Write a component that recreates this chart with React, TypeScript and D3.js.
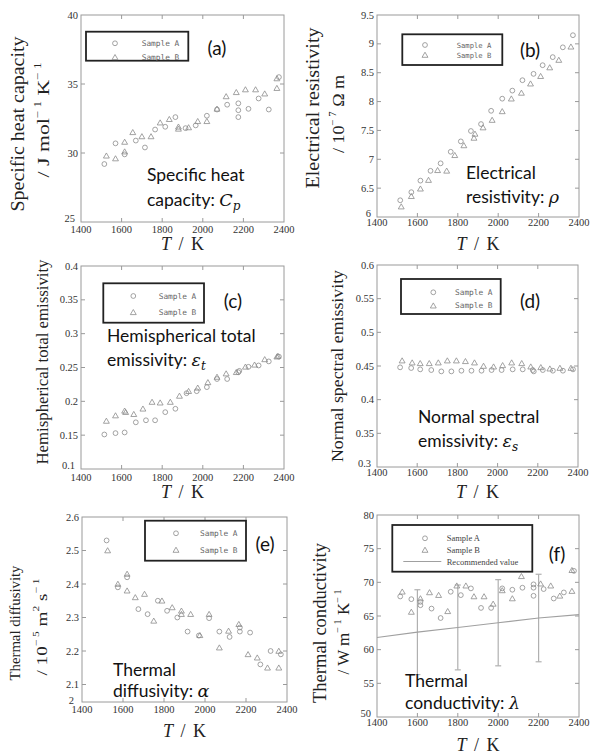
import React from 'react';
import { scaleLinear, symbol, symbolTriangle, line } from 'd3';

// temperatures (K) and values
const tempTicks = [1400, 1600, 1800, 2000, 2200, 2400];

// (a) specific heat capacity, J mol-1 K-1
const cpTempA = [1515, 1570, 1615, 1670, 1715, 1765, 1815, 1865, 1915, 1965, 2020, 2070, 2120, 2175, 2175, 2175, 2225, 2275, 2325, 2375];
const cpA = [29.2, 30.7, 29.9, 30.9, 30.4, 31.7, 31.9, 32.6, 31.8, 32.0, 32.7, 33.15, 33.5, 33.6, 33.1, 32.6, 33.2, 33.95, 33.15, 35.5];
const cpTempB = [1525, 1570, 1615, 1615, 1655, 1700, 1745, 1790, 1835, 1880, 1880, 1930, 1975, 2020, 2070, 2115, 2165, 2210, 2260, 2305, 2365, 2365];
const cpB = [29.8, 29.6, 30.1, 30.8, 31.5, 31.2, 31.2, 32.2, 32.45, 31.75, 31.9, 31.85, 32.3, 32.3, 33.2, 34.1, 34.4, 34.6, 34.6, 34.3, 34.7, 35.4];
const cpTicks = [25, 30, 35, 40];

// (b) electrical resistivity, 1e-7 ohm m
const rhoTempA = [1515, 1570, 1615, 1665, 1715, 1765, 1815, 1865, 1915, 1965, 2020, 2070, 2120, 2175, 2220, 2270, 2320, 2370];
const rhoA = [6.29, 6.43, 6.63, 6.8, 6.93, 7.13, 7.31, 7.49, 7.61, 7.84, 8.05, 8.19, 8.37, 8.48, 8.63, 8.77, 8.94, 9.15];
const rhoTempB = [1520, 1570, 1615, 1655, 1700, 1745, 1785, 1830, 1880, 1885, 1925, 1970, 2020, 2065, 2115, 2160, 2210, 2255, 2300, 2360];
const rhoB = [6.18, 6.36, 6.49, 6.64, 6.81, 6.8, 7.07, 7.24, 7.37, 7.44, 7.55, 7.68, 7.83, 8.05, 8.15, 8.31, 8.44, 8.59, 8.72, 8.95];
const rhoTicks = [6, 6.5, 7, 7.5, 8, 8.5, 9, 9.5];

// (c) hemispherical total emissivity
const etTempA = [1515, 1570, 1615, 1670, 1720, 1765, 1815, 1865, 1920, 1970, 2020, 2070, 2120, 2175, 2180, 2225, 2275, 2325, 2375];
const etA = [0.151, 0.153, 0.154, 0.169, 0.172, 0.172, 0.184, 0.189, 0.212, 0.215, 0.221, 0.233, 0.233, 0.243, 0.245, 0.251, 0.253, 0.259, 0.266];
const etTempB = [1525, 1570, 1615, 1620, 1660, 1705, 1750, 1790, 1840, 1885, 1930, 1975, 2025, 2070, 2115, 2165, 2210, 2255, 2305, 2365, 2370];
const etB = [0.171, 0.179, 0.186, 0.184, 0.181, 0.189, 0.199, 0.198, 0.199, 0.208, 0.215, 0.22, 0.228, 0.236, 0.241, 0.243, 0.251, 0.254, 0.262, 0.266, 0.267];
const etTicks = [0.1, 0.15, 0.2, 0.25, 0.3, 0.35, 0.4];

// (d) normal spectral emissivity
const esTempA = [1515, 1570, 1615, 1670, 1720, 1770, 1820, 1870, 1920, 1970, 2020, 2075, 2125, 2175, 2180, 2225, 2275, 2325, 2375];
const esA = [0.448, 0.447, 0.445, 0.444, 0.442, 0.442, 0.443, 0.443, 0.443, 0.444, 0.444, 0.445, 0.445, 0.444, 0.442, 0.444, 0.443, 0.443, 0.445];
const esTempB = [1525, 1575, 1615, 1660, 1705, 1750, 1795, 1840, 1885, 1930, 1980, 2025, 2070, 2120, 2165, 2215, 2260, 2310, 2365];
const esB = [0.458, 0.455, 0.454, 0.454, 0.455, 0.458, 0.458, 0.457, 0.455, 0.45, 0.449, 0.451, 0.455, 0.454, 0.449, 0.448, 0.446, 0.447, 0.447];
const esTicks = [0.3, 0.35, 0.4, 0.45, 0.5, 0.55, 0.6];

// (e) thermal diffusivity, 1e-5 m2 s-1
const alTempA = [1520, 1575, 1620, 1675, 1720, 1770, 1815, 1865, 1915, 1970, 2020, 2070, 2120, 2170, 2170, 2220, 2270, 2320, 2370];
const alA = [2.53, 2.39, 2.42, 2.325, 2.31, 2.35, 2.32, 2.3, 2.258, 2.246, 2.298, 2.258, 2.242, 2.27, 2.258, 2.255, 2.16, 2.2, 2.19];
const alTempB = [1525, 1575, 1620, 1620, 1660, 1705, 1750, 1790, 1840, 1885, 1885, 1930, 1975, 2020, 2070, 2115, 2165, 2210, 2255, 2305, 2360, 2360];
const alB = [2.5, 2.4, 2.43, 2.38, 2.36, 2.37, 2.29, 2.35, 2.33, 2.32, 2.31, 2.31, 2.247, 2.31, 2.21, 2.26, 2.28, 2.19, 2.18, 2.15, 2.2, 2.15];
const alTicks = [2, 2.1, 2.2, 2.3, 2.4, 2.5, 2.6];

// (f) thermal conductivity, W m-1 K-1
const laTempA = [1515, 1570, 1615, 1615, 1670, 1715, 1765, 1815, 1865, 1915, 1965, 2020, 2070, 2120, 2175, 2175, 2175, 2225, 2275, 2325, 2375];
const laA = [67.9, 67.5, 67.1, 66.6, 66.1, 64.7, 68.6, 68.1, 69.1, 66.2, 66.2, 69.1, 68.9, 69.2, 69.7, 69.2, 68.0, 69.0, 67.6, 68.5, 71.7];
const laTempB = [1525, 1570, 1615, 1660, 1705, 1750, 1795, 1840, 1880, 1930, 1975, 2020, 2070, 2115, 2210, 2260, 2305, 2365, 2365];
const laB = [68.6, 65.6, 67.6, 68.5, 68.1, 65.7, 69.5, 69.5, 67.9, 67.9, 66.8, 68.8, 67.6, 70.9, 69.8, 69.5, 68.0, 68.7, 71.8];
const recTemp = [1400, 1600, 1800, 2000, 2200, 2400];
const recValue = [61.8, 62.6, 63.3, 64.0, 64.7, 65.2];
const errTemp = [1600, 1800, 2000, 2200];
const errLow = [56.3, 57.0, 57.6, 58.2];
const errHigh = [68.9, 69.6, 70.4, 71.2];
const laTicks = [50, 55, 60, 65, 70, 75, 80];

const serif = '"Liberation Serif", "DejaVu Serif", serif';
const sans = 'Lato, "Open Sans", sans-serif';
const mono = '"DejaVu Sans Mono", "Liberation Mono", monospace';
const mathFont = '"DejaVu Serif", serif';
const markColor = '#8c8c8c';
const frameColor = '#9a9a9a';

type Seg = { t: string; i?: boolean; sub?: boolean; sup?: boolean; math?: boolean };

const zip = (ts: number[], vs: number[]) => ts.map((t, i) => [t, vs[i]] as [number, number]);

function Segs({ segs, small }: { segs: Seg[]; small: number }) {
  let shift = 0;
  return (
    <>
      {segs.map((s, k) => {
        const target = s.sub ? 4 : s.sup ? -6 : 0;
        const dy = target - shift;
        shift = target;
        return (
          <tspan
            key={k}
            dy={dy}
            fontStyle={s.i ? 'italic' : undefined}
            fontFamily={s.math ? mathFont : undefined}
            fontSize={s.sub || s.sup ? small : undefined}
          >
            {s.t}
          </tspan>
        );
      })}
    </>
  );
}

const triangle = symbol().type(symbolTriangle).size(15)();

function Circle({ cx, cy }: { cx: number; cy: number }) {
  return <circle cx={cx} cy={cy} r={2.4} fill="none" stroke={markColor} strokeWidth={0.8} />;
}
function Tri({ cx, cy }: { cx: number; cy: number }) {
  return <path d={triangle} transform={`translate(${cx},${cy + 0.6})`} fill="none" stroke={markColor} strokeWidth={0.8} />;
}

type Panel = {
  id: string;
  left: number; right: number; top: number; bottom: number;
  yDomain: [number, number]; yRange?: [number, number];
  yTicks: number[];
  a: [number, number][]; b: [number, number][];
  xLabelY: number; tkY: number;
  ylabel: { x: number; y: number; len: number; size: number; segs: Seg[] }[];
  tag: { x: number; y: number };
  note: { x: number; ys: number[]; lines: Seg[][] };
  legend: { x: number; y: number; w: number; h: number; mx: number; tx: number; rows: number[]; font: string; size: number; fill: string; rec?: boolean };
  bottomLabelY?: number;
  extra?: boolean;
};

const panels: Panel[] = [
  {
    id: '(a)', left: 81, right: 284, top: 15, bottom: 222, yDomain: [25, 40], yTicks: cpTicks,
    a: zip(cpTempA, cpA), b: zip(cpTempB, cpB), xLabelY: 233, tkY: 250,
    ylabel: [
      { x: 18, y: 124, len: 175, size: 18, segs: [{ t: 'Specific  heat  capacity' }] },
      { x: 43, y: 120, len: 115, size: 17, segs: [{ t: '/  J mol' }, { t: '− 1', sup: true }, { t: ' K' }, { t: '− 1', sup: true }] },
    ],
    tag: { x: 217, y: 47 },
    note: { x: 147, ys: [181, 206], lines: [[{ t: 'Specific heat' }], [{ t: 'capacity: ' }, { t: 'C', i: true, math: true }, { t: 'p', i: true, sub: true, math: true }]] },
    legend: { x: 86, y: 31.7, w: 102.3, h: 29, mx: 115, tx: 141.7, rows: [43.3, 57.3], font: mono, size: 7.8, fill: '#666' },
  },
  {
    id: '(b)', left: 377, right: 579, top: 15, bottom: 217, yDomain: [6, 9.5], yTicks: rhoTicks,
    a: zip(rhoTempA, rhoA), b: zip(rhoTempB, rhoB), xLabelY: 226, tkY: 250,
    ylabel: [
      { x: 313, y: 108, len: 161, size: 18.5, segs: [{ t: 'Electrical  resistivity' }] },
      { x: 338, y: 114, len: 78, size: 17, segs: [{ t: '/ 10' }, { t: '− 7', sup: true }, { t: ' Ω m' }] },
    ],
    tag: { x: 530, y: 49 },
    note: { x: 466, ys: [179, 203], lines: [[{ t: 'Electrical' }], [{ t: 'resistivity: ' }, { t: 'ρ', i: true, math: true }]] },
    legend: { x: 402.3, y: 34.3, w: 100, h: 30.7, mx: 425, tx: 456.7, rows: [45, 55], font: mono, size: 7.2, fill: '#666' },
  },
  {
    id: '(c)', left: 81, right: 284, top: 266, bottom: 469, yDomain: [0.1, 0.4], yTicks: etTicks,
    a: zip(etTempA, etA), b: zip(etTempB, etB), xLabelY: 481, tkY: 498,
    ylabel: [{ x: 42, y: 362, len: 205, size: 16, segs: [{ t: 'Hemispherical  total  emissivity' }] }],
    tag: { x: 233, y: 300 },
    note: { x: 107, ys: [342, 366], lines: [[{ t: 'Hemispherical total' }], [{ t: 'emissivity: ' }, { t: 'ε', i: true, math: true }, { t: 't', i: true, sub: true, math: true }]] },
    legend: { x: 103.3, y: 283.3, w: 100.7, h: 39.4, mx: 133.3, tx: 158.7, rows: [296, 312.3], font: mono, size: 7.8, fill: '#666' },
  },
  {
    id: '(d)', left: 377, right: 578, top: 265, bottom: 467, yDomain: [0.3, 0.6], yTicks: esTicks,
    a: zip(esTempA, esA), b: zip(esTempB, esB), xLabelY: 476, tkY: 498,
    ylabel: [{ x: 337, y: 366, len: 192, size: 17, segs: [{ t: 'Normal  spectral  emissivity' }] }],
    tag: { x: 530, y: 300 },
    note: { x: 418, ys: [423, 447], lines: [[{ t: 'Normal spectral' }], [{ t: 'emissivity: ' }, { t: 'ε', i: true, math: true }, { t: 's', i: true, sub: true, math: true }]] },
    legend: { x: 401, y: 279, w: 99.7, h: 35, mx: 433.3, tx: 455, rows: [292.3, 305.7], font: mono, size: 7.8, fill: '#666' },
  },
  {
    id: '(e)', left: 82, right: 287, top: 517, bottom: 702, yDomain: [2, 2.6], yRange: [718, 517], yTicks: alTicks,
    a: zip(alTempA, alA), b: zip(alTempB, alB), xLabelY: 713, tkY: 737,
    ylabel: [
      { x: 15, y: 623, len: 115, size: 14.5, segs: [{ t: 'Thermal  diffusivity' }] },
      { x: 42, y: 627, len: 97, size: 15, segs: [{ t: '/ 10' }, { t: '− 5', sup: true }, { t: '  m' }, { t: '2', sup: true }, { t: ' s' }, { t: '− 1', sup: true }] },
    ],
    tag: { x: 265, y: 543 },
    note: { x: 113, ys: [676, 697], lines: [[{ t: 'Thermal' }], [{ t: 'diffusivity: ' }, { t: 'α', i: true, math: true }]] },
    legend: { x: 145, y: 520.7, w: 101, h: 40, mx: 176, tx: 200, rows: [533.3, 550], font: mono, size: 7.8, fill: '#666' },
    bottomLabelY: 700,
  },
  {
    id: '(f)', left: 377, right: 579, top: 515, bottom: 717, yDomain: [50, 80], yTicks: laTicks,
    a: zip(laTempA, laA), b: zip(laTempB, laB), xLabelY: 726, tkY: 751,
    ylabel: [
      { x: 320, y: 623, len: 160, size: 18, segs: [{ t: 'Thermal  conductivity' }] },
      { x: 343, y: 632, len: 85, size: 17, segs: [{ t: '/  W m' }, { t: '− 1', sup: true }, { t: ' K' }, { t: '− 1', sup: true }] },
    ],
    tag: { x: 557, y: 553 },
    note: { x: 405, ys: [687, 709], lines: [[{ t: 'Thermal' }], [{ t: 'conductivity: ' }, { t: 'λ', i: true, math: true }]] },
    legend: { x: 392.3, y: 525, w: 140, h: 46.7, mx: 425, tx: 446.7, rows: [538.3, 550, 561.5], font: serif, size: 8.5, fill: '#444', rec: true },
    extra: true,
  },
];

function ChartPanel({ p }: { p: Panel }) {
  const x = scaleLinear().domain([1400, 2400]).range([p.left, p.right]);
  const y = scaleLinear().domain(p.yDomain).range(p.yRange || [p.bottom, p.top]);
  const inner = tempTicks.slice(1, -1);
  const innerY = p.yTicks.filter((v) => y(v) > p.top + 1 && y(v) < p.bottom - 1);
  const recLine = line<[number, number]>().x((d) => x(d[0])).y((d) => y(d[1]));
  const L = p.legend;
  return (
    <g>
      {/* frame and inward ticks */}
      <rect x={p.left} y={p.top} width={p.right - p.left} height={p.bottom - p.top} fill="none" stroke={frameColor} strokeWidth={1} />
      {inner.map((t) => (
        <g key={'xt' + t} stroke={frameColor}>
          <line x1={x(t)} x2={x(t)} y1={p.bottom} y2={p.bottom - 4} />
          <line x1={x(t)} x2={x(t)} y1={p.top} y2={p.top + 4} />
        </g>
      ))}
      {innerY.map((v) => (
        <g key={'yt' + v} stroke={frameColor}>
          <line x1={p.left} x2={p.left + 4} y1={y(v)} y2={y(v)} />
          <line x1={p.right} x2={p.right - 4} y1={y(v)} y2={y(v)} />
        </g>
      ))}
      {/* tick labels */}
      <g fontFamily={serif} fontSize={10.5} fill="#333">
        {tempTicks.map((t) => (
          <text key={'xl' + t} x={x(t)} y={p.xLabelY} textAnchor="middle">{t}</text>
        ))}
        {p.yTicks.map((v, k) => {
          let yy = y(v);
          let xx = p.left - 3;
          if (k === 0) {
            yy = p.bottomLabelY !== undefined ? p.bottomLabelY : p.bottom - 4;
            xx = p.left - (p.bottomLabelY !== undefined ? 8 : 6);
          }
          return (
            <text key={'yl' + v} x={xx} y={yy} textAnchor="end" dominantBaseline="central">{v}</text>
          );
        })}
      </g>
      {/* axis titles */}
      <text x={(p.left + p.right) / 2} y={p.tkY} textAnchor="middle" fontFamily={serif} fontSize={18} fill="#222" wordSpacing={3}>
        <tspan fontStyle="italic">T</tspan> /  K
      </text>
      {p.ylabel.map((l, k) => (
        <text
          key={'ylab' + k}
          transform={`translate(${l.x},${l.y}) rotate(-90)`}
          textAnchor="middle"
          dominantBaseline="central"
          fontFamily={serif}
          fontSize={l.size}
          fill="#222"
          textLength={l.len}
          lengthAdjust="spacingAndGlyphs"
        >
          <Segs segs={l.segs} small={l.size * 0.6} />
        </text>
      ))}
      {/* error bars and recommended value */}
      {p.extra && (
        <g stroke="#b0b0b0" strokeWidth={1.2} fill="none">
          {errTemp.map((t, i) => (
            <g key={'eb' + t}>
              <line x1={x(t)} x2={x(t)} y1={y(errLow[i])} y2={y(errHigh[i])} />
              <line x1={x(t) - 3} x2={x(t) + 3} y1={y(errLow[i])} y2={y(errLow[i])} />
              <line x1={x(t) - 3} x2={x(t) + 3} y1={y(errHigh[i])} y2={y(errHigh[i])} />
            </g>
          ))}
          <path d={recLine(zip(recTemp, recValue)) || ''} stroke="#a0a0a0" strokeWidth={1.1} />
        </g>
      )}
      {/* data */}
      {p.a.map((d, i) => <Circle key={'a' + i} cx={x(d[0])} cy={y(d[1])} />)}
      {p.b.map((d, i) => <Tri key={'b' + i} cx={x(d[0])} cy={y(d[1])} />)}
      {/* legend */}
      <rect x={L.x} y={L.y} width={L.w} height={L.h} fill="white" stroke="#222" strokeWidth={1.8} />
      <Circle cx={L.mx} cy={L.rows[0]} />
      <Tri cx={L.mx} cy={L.rows[1]} />
      {L.rec && <line x1={L.x + 11} x2={L.x + 49} y1={L.rows[2]} y2={L.rows[2]} stroke="#a0a0a0" strokeWidth={1.1} />}
      <g fontFamily={L.font} fontSize={L.size} fill={L.fill}>
        <text x={L.tx} y={L.rows[0]} dominantBaseline="central">Sample A</text>
        <text x={L.tx} y={L.rows[1]} dominantBaseline="central">Sample B</text>
        {L.rec && <text x={L.tx} y={L.rows[2]} dominantBaseline="central">Recommended value</text>}
      </g>
      {/* panel tag and note */}
      <text x={p.tag.x} y={p.tag.y} textAnchor="middle" dominantBaseline="central" fontFamily={sans} fontSize={19} fill="#111">{p.id}</text>
      <g fontFamily={sans} fontSize={17.5} fill="#111">
        {p.note.lines.map((segs, k) => (
          <text key={'n' + k} x={p.note.x} y={p.note.ys[k]}>
            <Segs segs={segs} small={12} />
          </text>
        ))}
      </g>
    </g>
  );
}

export default function App() {
  return (
    <svg width={591} height={755} style={{ position: 'absolute', left: 0, top: 0, background: 'white' }}>
      <rect width={591} height={755} fill="white" />
      {panels.map((p) => <ChartPanel key={p.id} p={p} />)}
    </svg>
  );
}
